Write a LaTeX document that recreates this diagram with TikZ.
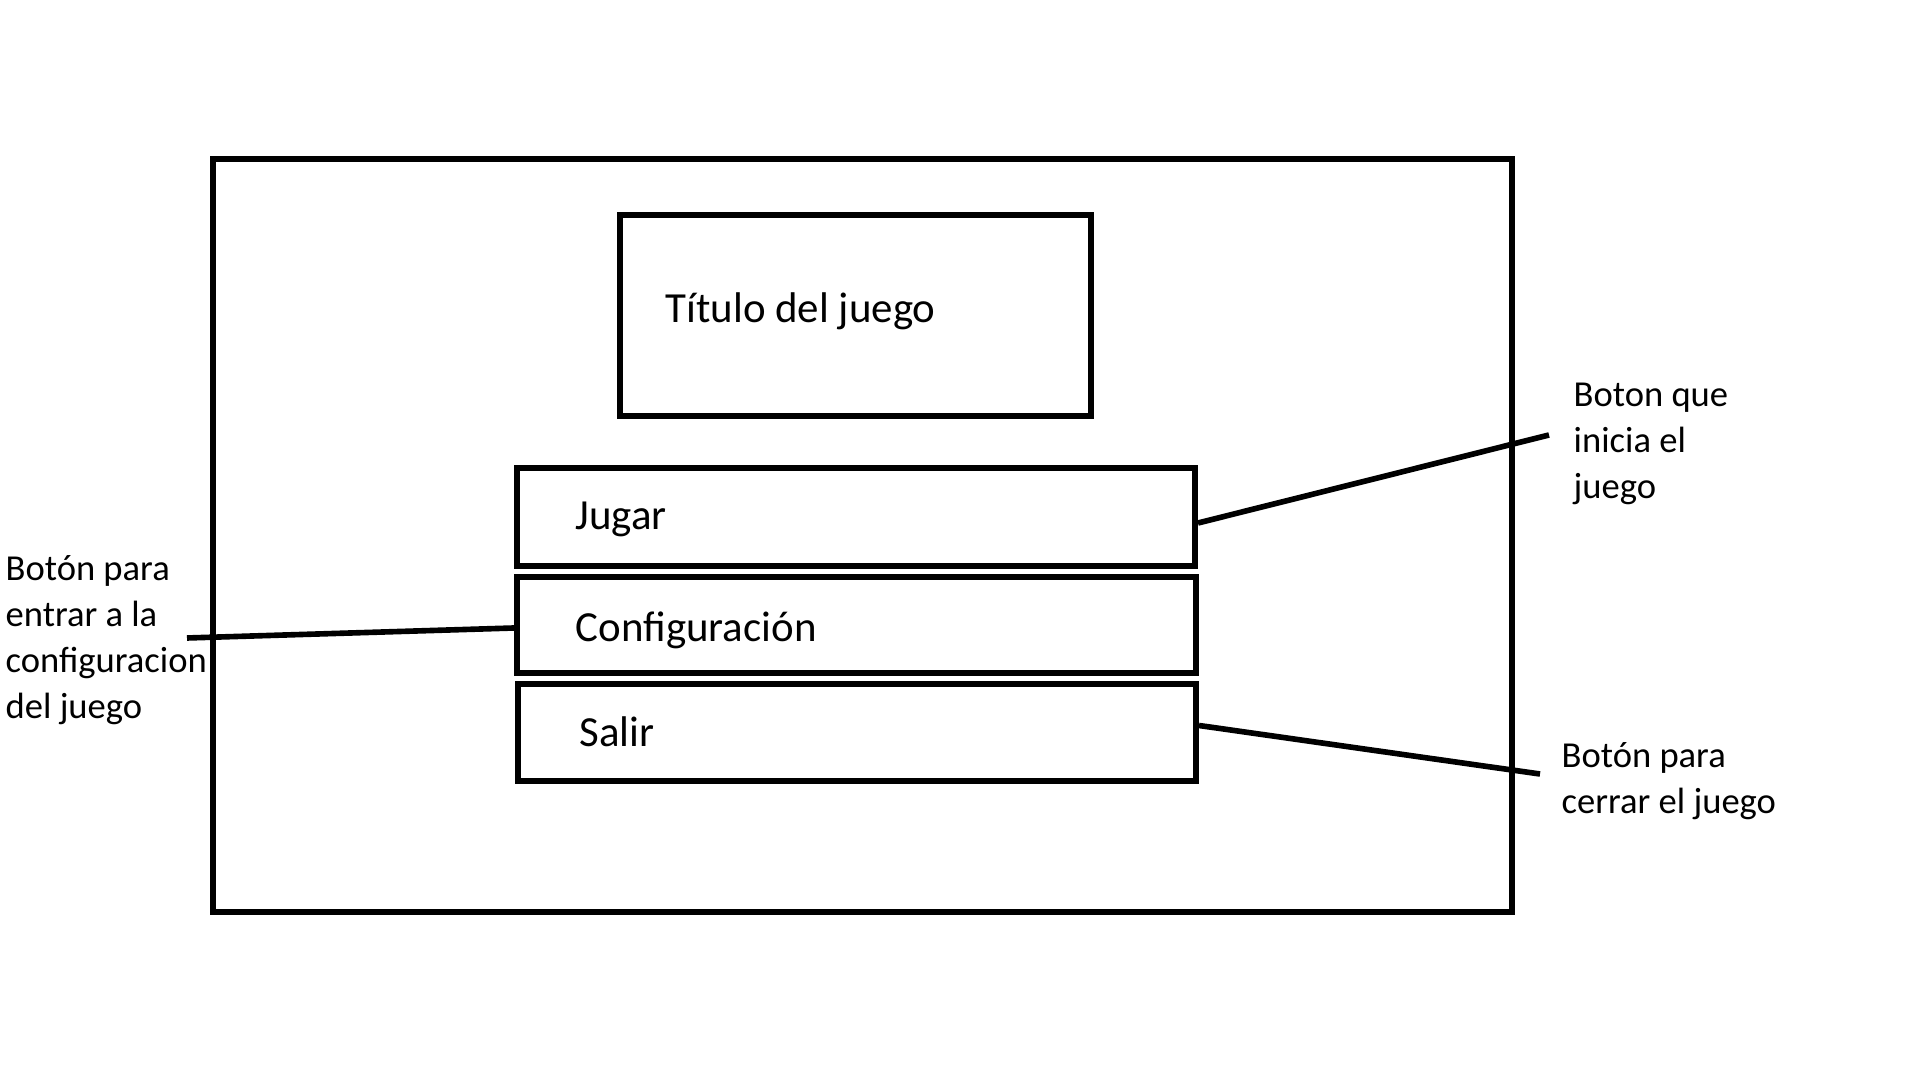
\documentclass[tikz,border=0pt]{standalone}
\usepackage{fontspec}
\setmainfont{Carlito}
\usetikzlibrary{calc}

\begin{document}
\begin{tikzpicture}[x=0.01cm,y=-0.01cm,
	caja/.style={draw,line width=1.6pt,inner sep=0pt},
	texto/.style={font=\fontsize{12.2}{14.6}\selectfont,anchor=base west,inner sep=0pt},
	nota/.style={font=\fontsize{10.4}{13.1}\selectfont,align=left,anchor=base west,inner sep=0pt},
	linea/.style={line width=1.6pt}]
	\useasboundingbox (0,0) rectangle (1920,1080);
	\draw[line width=1.6pt] (213,159) rectangle (1512,912);
	\node[caja,minimum width=4.71cm,minimum height=2.01cm] (titulo) at (855.5,315.5) {};
	\node[caja,minimum width=6.78cm,minimum height=0.98cm] (jugar) at (856,517) {};
	\node[caja,minimum width=6.79cm,minimum height=0.96cm] (config) at (856.5,625) {};
	\node[caja,minimum width=6.78cm,minimum height=0.97cm] (salir) at (857,732.5) {};
	\node[texto] (tTitulo) at (665,322.5) {Título del juego};
	\node[texto] (tJugar) at (575,529.5) {Jugar};
	\node[texto] (tConfig) at (575,642) {Configuración};
	\node[texto] (tSalir) at (579,746.5) {Salir};
	\node[nota] (nJugar) at (1573,499) {Boton que\\inicia el\\juego};
	\node[nota] (nConfig) at (5,719) {Botón para\\entrar a la\\configuracion\\del juego};
	\node[nota] (nSalir) at (1561,814) {Botón para\\cerrar el juego};
	\coordinate (pJugar) at (1549,435);
	\coordinate (pConfig) at (187,638);
	\coordinate (pSalir) at (1540,774);
	\draw[linea] ($(jugar.east)+(0,6)$) -- (pJugar);
	\draw[linea] (pConfig) -- ($(config.west)+(0,3)$);
	\draw[linea] ($(salir.east)+(0,-7)$) -- (pSalir);
\end{tikzpicture}
\end{document}
